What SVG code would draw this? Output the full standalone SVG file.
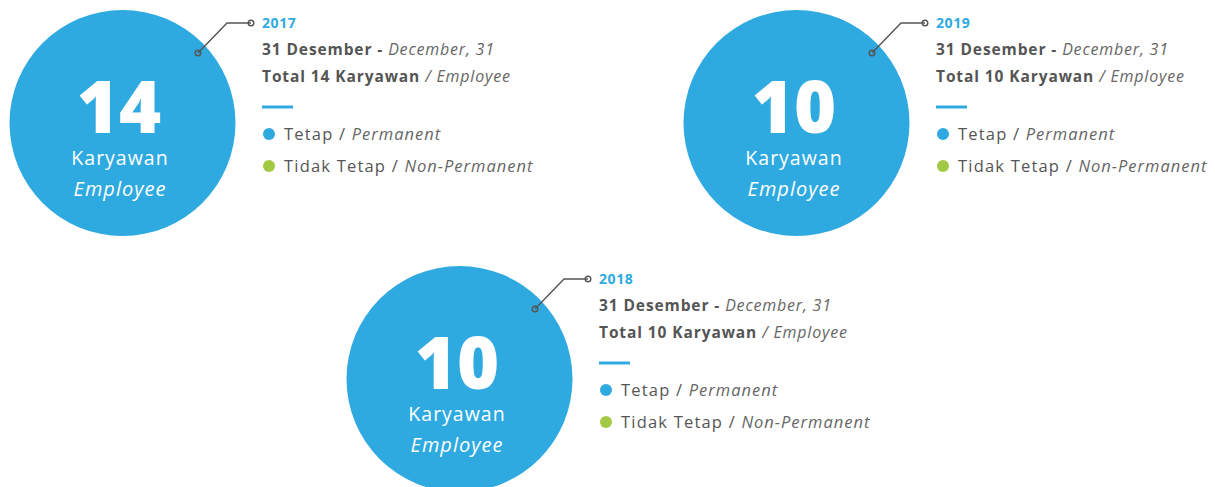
<svg xmlns="http://www.w3.org/2000/svg" width="1215" height="487" viewBox="0 0 1215 487">
<style>
.big{fill:#2eaae1}
.num{font-family:"Open Sans",sans-serif;font-weight:800;font-size:72px;fill:#fff;text-anchor:middle}
.kar{font-family:"Open Sans",sans-serif;font-size:19.5px;letter-spacing:1px;fill:#fff;text-anchor:middle}
.emp{font-family:"Open Sans",sans-serif;font-style:italic;font-size:20px;letter-spacing:1px;fill:#fff;text-anchor:middle}
.yr{font-family:"Open Sans",sans-serif;font-weight:700;font-size:14px;letter-spacing:0.6px;fill:#2eaae1}
.b{font-family:"Open Sans",sans-serif;font-weight:700;font-size:15.5px;letter-spacing:0.9px;fill:#555}
.i{font-family:"Open Sans",sans-serif;font-style:italic;font-weight:400;font-size:16px;letter-spacing:0.8px;fill:#666}
.r{font-family:"Open Sans",sans-serif;font-weight:400;font-size:16.5px;letter-spacing:1.2px;fill:#555}
.ri{font-family:"Open Sans",sans-serif;font-style:italic;font-size:16.5px;letter-spacing:1px;fill:#666}
.conn{fill:none;stroke:#555;stroke-width:1.4}
.dot{fill:none;stroke:#555;stroke-width:1.4}
</style>
<defs>
<g id="legend">
<line x1="262" y1="107" x2="293" y2="107" stroke="#2eaae1" stroke-width="3"/>
<circle cx="269" cy="134" r="6" fill="#2eaae1"/>
<text x="284" y="140"><tspan class="r">Tetap / </tspan><tspan class="ri">Permanent</tspan></text>
<circle cx="269" cy="166" r="6" fill="#a3c843"/>
<text x="284" y="172"><tspan class="r">Tidak Tetap / </tspan><tspan class="ri">Non-Permanent</tspan></text>
</g>
</defs>
<g id="node2017">
<circle class="big" cx="122.5" cy="123" r="113"/>
<text class="num" x="119" y="133">14</text>
<text class="kar" x="120" y="165">Karyawan</text>
<text class="emp" x="120" y="196">Employee</text>
<text class="yr" x="262" y="28">2017</text>
<text x="262" y="55"><tspan class="b">31 Desember - </tspan><tspan class="i">December, 31</tspan></text>
<text x="262" y="82"><tspan class="b">Total 14 Karyawan</tspan><tspan class="i"> / Employee</tspan></text>
<use href="#legend"/>
</g>
<g id="node2019" transform="translate(674,0)">
<circle class="big" cx="122.5" cy="123" r="113"/>
<text class="num" x="120" y="133">10</text>
<text class="kar" x="120" y="165">Karyawan</text>
<text class="emp" x="120" y="196">Employee</text>
<text class="yr" x="262" y="28">2019</text>
<text x="262" y="55"><tspan class="b">31 Desember - </tspan><tspan class="i">December, 31</tspan></text>
<text x="262" y="82"><tspan class="b">Total 10 Karyawan</tspan><tspan class="i"> / Employee</tspan></text>
<use href="#legend"/>
</g>
<g id="node2018" transform="translate(337,256)">
<circle class="big" cx="122.5" cy="123" r="113"/>
<text class="num" x="120" y="133">10</text>
<text class="kar" x="120" y="165">Karyawan</text>
<text class="emp" x="120" y="196">Employee</text>
<text class="yr" x="262" y="28">2018</text>
<text x="262" y="55"><tspan class="b">31 Desember - </tspan><tspan class="i">December, 31</tspan></text>
<text x="262" y="82"><tspan class="b">Total 10 Karyawan</tspan><tspan class="i"> / Employee</tspan></text>
<use href="#legend"/>
</g>
<g id="connectors">
<g><polyline class="conn" points="198,53 227,23 251,23"/><circle class="dot" cx="198" cy="53" r="2.8"/><circle class="dot" cx="251" cy="23" r="2.8"/></g>
<g transform="translate(674,0)"><polyline class="conn" points="198,53 227,23 251,23"/><circle class="dot" cx="198" cy="53" r="2.8"/><circle class="dot" cx="251" cy="23" r="2.8"/></g>
<g transform="translate(337,256)"><polyline class="conn" points="198,53 227,23 251,23"/><circle class="dot" cx="198" cy="53" r="2.8"/><circle class="dot" cx="251" cy="23" r="2.8"/></g>
</g>
</svg>
